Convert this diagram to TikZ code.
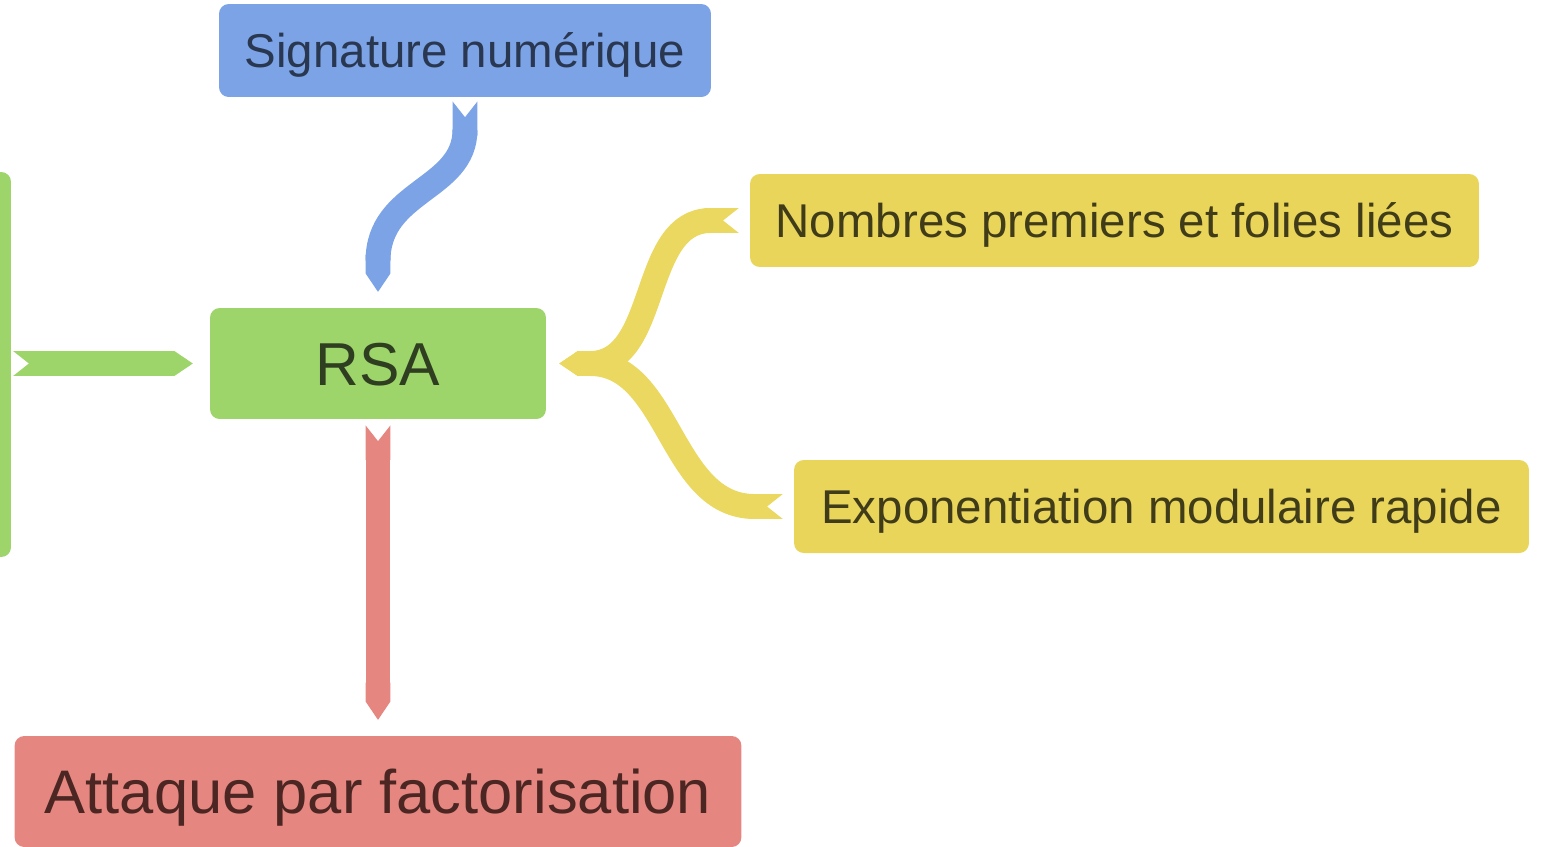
\documentclass[tikz,border=0pt]{standalone}
\usepackage{fontspec}
\setmainfont{Liberation Sans}
\usetikzlibrary{arrows.meta}

\definecolor{sigblue}{RGB}{123,163,230}
\definecolor{sigtext}{RGB}{42,55,80}
\definecolor{rsagreen}{RGB}{158,213,107}
\definecolor{rsatext}{RGB}{47,62,33}
\definecolor{mathyellow}{RGB}{232,213,90}
\definecolor{mathribbon}{RGB}{234,216,96}
\definecolor{mathtext}{RGB}{64,60,25}
\definecolor{attred}{RGB}{229,135,128}
\definecolor{atttext}{RGB}{75,38,35}

\tikzset{
  box/.style={rounded corners=5.5pt, inner sep=0pt, text height=19.3pt, text depth=0pt,
    font=\fontsize{27}{32}\selectfont},
  bigbox/.style={box, text height=24.5pt, font=\fontsize{34.5}{40}\selectfont},
  ribbon/.style={line width=14.2pt, {Triangle Cap[reversed,length=9pt]}-{Triangle Cap[length=10.5pt]}},
}

\begin{document}
\begin{tikzpicture}[x=0.02cm,y=-0.02cm]
  \useasboundingbox (0,0) rectangle (1543,846);
  \clip (0,0) rectangle (1543,846);
  %noeuds
  \node[box, fill=sigblue, text=sigtext, minimum width=9.84cm, minimum height=1.86cm] (sig) at (465,50.5) {Signature numérique};
  \node[bigbox, fill=rsagreen, text=rsatext, minimum width=6.72cm, minimum height=2.22cm] (rsa) at (378,363.5) {RSA};
  \node[box, fill=mathyellow, text=mathtext, minimum width=14.58cm, minimum height=1.86cm] (nomb) at (1114.5,220.5) {Nombres premiers et folies liées};
  \node[box, fill=mathyellow, text=mathtext, minimum width=14.7cm, minimum height=1.86cm] (expo) at (1161.5,506.5) {Exponentiation modulaire rapide};
  \node[bigbox, font=\fontsize{35}{40}\selectfont, fill=attred, text=atttext, minimum width=14.54cm, minimum height=2.22cm] (att) at (378,791.5) {Attaque par factorisation};
  \node[box, fill=rsagreen, minimum width=1.64cm, minimum height=7.7cm] (parent) at (-30,364.5) {};
  %liens
  \draw[ribbon, sigblue, shorten <=2.3pt, shorten >=9pt] (sig.south) .. controls +(0,93) and +(0,-118) .. (rsa.north);
  \draw[ribbon, rsagreen, shorten <=1pt, shorten >=9.6pt] (parent.east |- rsa) -- (rsa.west);
  \draw[ribbon, mathribbon, shorten <=6.2pt, shorten >=7.4pt] (nomb.west) .. controls +(-110,0) and +(114,0) .. (rsa.east);
  \draw[ribbon, mathribbon, shorten <=6.2pt, shorten >=7.4pt] (expo.west) .. controls +(-124,0) and +(124,0) .. (rsa.east);
  \draw[ribbon, attred, shorten <=3.4pt, shorten >=9pt] (rsa.south) -- (rsa.south |- att.north);
\end{tikzpicture}
\end{document}
